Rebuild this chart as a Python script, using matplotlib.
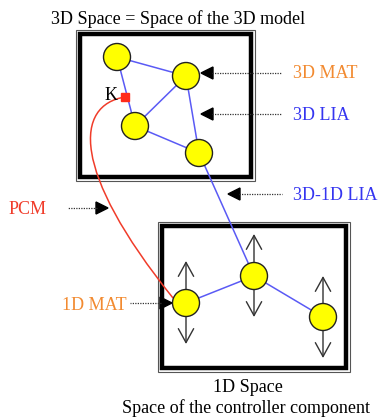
"""
3D model space vs 1D controller space diagram.
"""
import matplotlib.pyplot as plt
from matplotlib.patches import Circle, Rectangle, Polygon, PathPatch
from matplotlib.path import Path

# node centres (pixel coordinates of the reference picture)
nodes_3d = [(117, 57), (186, 76), (135, 126), (199, 153)]
nodes_1d = [(186, 303), (254, 276), (323, 317)]
links_3d = [(0, 1), (0, 2), (1, 2), (1, 3), (2, 3)]
links_1d = [(0, 1), (1, 2)]
# vertical movement range of each 1D node (top tip, bottom tip)
ranges_1d = [(261, 344), (234, 317), (276, 358)]
k_point = (125, 97)

labels = ["3D MAT", "3D LIA", "3D-1D LIA"]
label_colors = ["#F28A30", "#3535F0", "#3535F0"]
label_y = [73, 114, 194]
arrow_tip_x = [201, 201, 228]

ORANGE = "#F28A30"
BLUE = "#3535F0"
RED = "#F03C2A"
LINK = "#5A5AF5"
NODE_R = 13.5
FONT = "Liberation Serif"

fig = plt.figure(figsize=(3.79, 4.20), dpi=100)
ax = fig.add_axes([0, 0, 1, 1])
ax.set_xlim(0, 379)
ax.set_ylim(420, 0)
ax.axis("off")


def frame(x0, y0, x1, y1):
    ax.add_patch(Rectangle((x0, y0), x1 - x0, y1 - y0, fill=False,
                           edgecolor="#555555", linewidth=0.8))
    ax.add_patch(Rectangle((x0 + 4, y0 + 4), x1 - x0 - 8, y1 - y0 - 8,
                           fill=False, edgecolor="black", linewidth=3.2))


def pointer(x_tip, y, x_end, direction=1):
    # dotted line with a filled black triangle; direction=1 points left
    ax.plot([x_tip + 11 * direction, x_end], [y, y], color="#333333",
            linewidth=0.9, linestyle=(0, (1, 1)))
    ax.add_patch(Polygon([(x_tip, y), (x_tip + 12 * direction, y - 6),
                          (x_tip + 12 * direction, y + 6)],
                         closed=True, color="black"))


frame(76, 30, 255, 181)
frame(158, 222, 350, 372)

for i, j in links_3d:
    ax.plot([nodes_3d[i][0], nodes_3d[j][0]], [nodes_3d[i][1], nodes_3d[j][1]],
            color=LINK, linewidth=1.1, zorder=2)
for i, j in links_1d:
    ax.plot([nodes_1d[i][0], nodes_1d[j][0]], [nodes_1d[i][1], nodes_1d[j][1]],
            color=LINK, linewidth=1.1, zorder=2)
ax.plot([nodes_3d[3][0], nodes_1d[1][0]], [nodes_3d[3][1], nodes_1d[1][1]],
        color=LINK, linewidth=1.1, zorder=2)

# up/down movement arrows of the controller nodes
for (cx, cy), (top, bottom) in zip(nodes_1d, ranges_1d):
    for tip in (top, bottom):
        ax.annotate("", xy=(cx, tip), xytext=(cx, cy),
                    arrowprops=dict(arrowstyle="->,head_length=1.0,head_width=0.55",
                                    color="#333333", linewidth=1.0,
                                    shrinkA=0, shrinkB=0), zorder=1)

# PCM curve from K to the first 1D node
pcm = Path([k_point, (75, 105), (70, 170), (173, 298)],
           [Path.MOVETO, Path.CURVE4, Path.CURVE4, Path.CURVE4])
ax.add_patch(PathPatch(pcm, fill=False, edgecolor=RED, linewidth=1.1, zorder=2))

for cx, cy in nodes_3d + nodes_1d:
    ax.add_patch(Circle((cx, cy), NODE_R, facecolor="#FFFF00",
                        edgecolor="#222222", linewidth=1.0, zorder=3))

ax.add_patch(Rectangle((k_point[0] - 4, k_point[1] - 4), 8, 8,
                       color="#FF2A1A", zorder=4))
ax.text(111, 95, "K", fontsize=13, family=FONT, ha="center", va="center")

for text, color, y, tip in zip(labels, label_colors, label_y, arrow_tip_x):
    pointer(tip, y, 282)
    ax.text(293, y + 1, text, color=color, fontsize=13, family=FONT,
            ha="left", va="center")

pointer(108, 208, 67, direction=-1)
ax.text(9, 210, "PCM", color=RED, fontsize=13, family=FONT,
        ha="left", va="center")

pointer(172, 303, 130, direction=-1)
ax.text(127, 305, "1D MAT", color=ORANGE, fontsize=13, family=FONT,
        ha="right", va="center")

ax.text(178, 19, "3D Space = Space of the 3D model", fontsize=13,
        family=FONT, ha="center", va="center")
ax.text(248, 388, "1D Space", fontsize=13, family=FONT,
        ha="center", va="center")
ax.text(246, 408, "Space of the controller component", fontsize=13,
        family=FONT, ha="center", va="center")

fig.savefig("out.png", dpi=100)
